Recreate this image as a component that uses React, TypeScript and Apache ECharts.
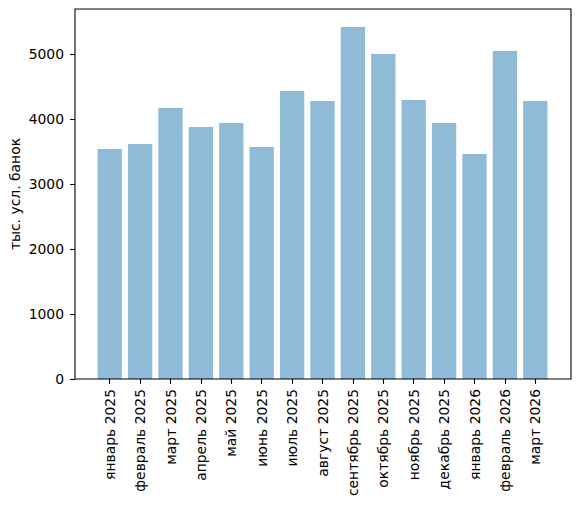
import React, { useEffect, useRef } from "react";
import * as echarts from "echarts";

const categories = [
  "январь 2025", "февраль 2025", "март 2025", "апрель 2025", "май 2025",
  "июнь 2025", "июль 2025", "август 2025", "сентябрь 2025", "октябрь 2025",
  "ноябрь 2025", "декабрь 2025", "январь 2026", "февраль 2026", "март 2026",
];
const values = [3538, 3615, 4169, 3877, 3938, 3569, 4431, 4277, 5415, 5000, 4292, 3938, 3462, 5046, 4277];
const yTicks = [0, 1000, 2000, 3000, 4000, 5000];
const yName = "тыс. усл. банок";

export default function App() {
  const ref = useRef<HTMLDivElement>(null);
  useEffect(() => {
    document.body.style.margin = "0";
    const chart = echarts.init(ref.current!, null, { renderer: "svg" });
    const font = "DejaVu Sans";
    const fs = 13.9;
    chart.setOption({
      animation: false,
      backgroundColor: "#fff",
      textStyle: { fontFamily: font },
      grid: { left: 94.5, top: 9, width: 456, height: 370, containLabel: false, outerBoundsMode: "none" },
      xAxis: {
        type: "category",
        data: categories,
        axisLine: { show: false },
        axisTick: { show: true, alignWithLabel: true, length: 4.9, lineStyle: { color: "#000", width: 1.1 } },
        axisLabel: { rotate: 90, margin: 10, color: "#000", fontSize: fs, fontFamily: font, interval: 0 },
      },
      yAxis: {
        type: "value",
        min: 0,
        max: 5692,
        offset: 19.5,
        splitLine: { show: false },
        axisLine: { show: false },
        axisTick: { show: true, length: 4.9, customValues: yTicks, lineStyle: { color: "#000", width: 1.1 } },
        axisLabel: {
          customValues: yTicks,
          margin: 11,
          color: "#000",
          fontSize: fs,
          fontFamily: font,
          formatter: (v: number) => String(v),
        },
        name: yName,
        nameLocation: "middle",
        nameGap: 53,
        nameMoveOverlap: false,
        nameTextStyle: { color: "#000", fontSize: fs, fontFamily: font },
      },
      series: [
        {
          type: "bar",
          data: values,
          barWidth: "80%",
          itemStyle: { color: "#1f77b4", opacity: 0.5 },
        },
      ],
      graphic: [
        {
          type: "rect",
          shape: { x: 75, y: 9, width: 496, height: 370 },
          style: { fill: "none", stroke: "#000", lineWidth: 1.1 },
          z: 100,
        },
      ],
    });
    return () => chart.dispose();
  }, []);
  return <div ref={ref} style={{ width: 580, height: 506 }} />;
}
